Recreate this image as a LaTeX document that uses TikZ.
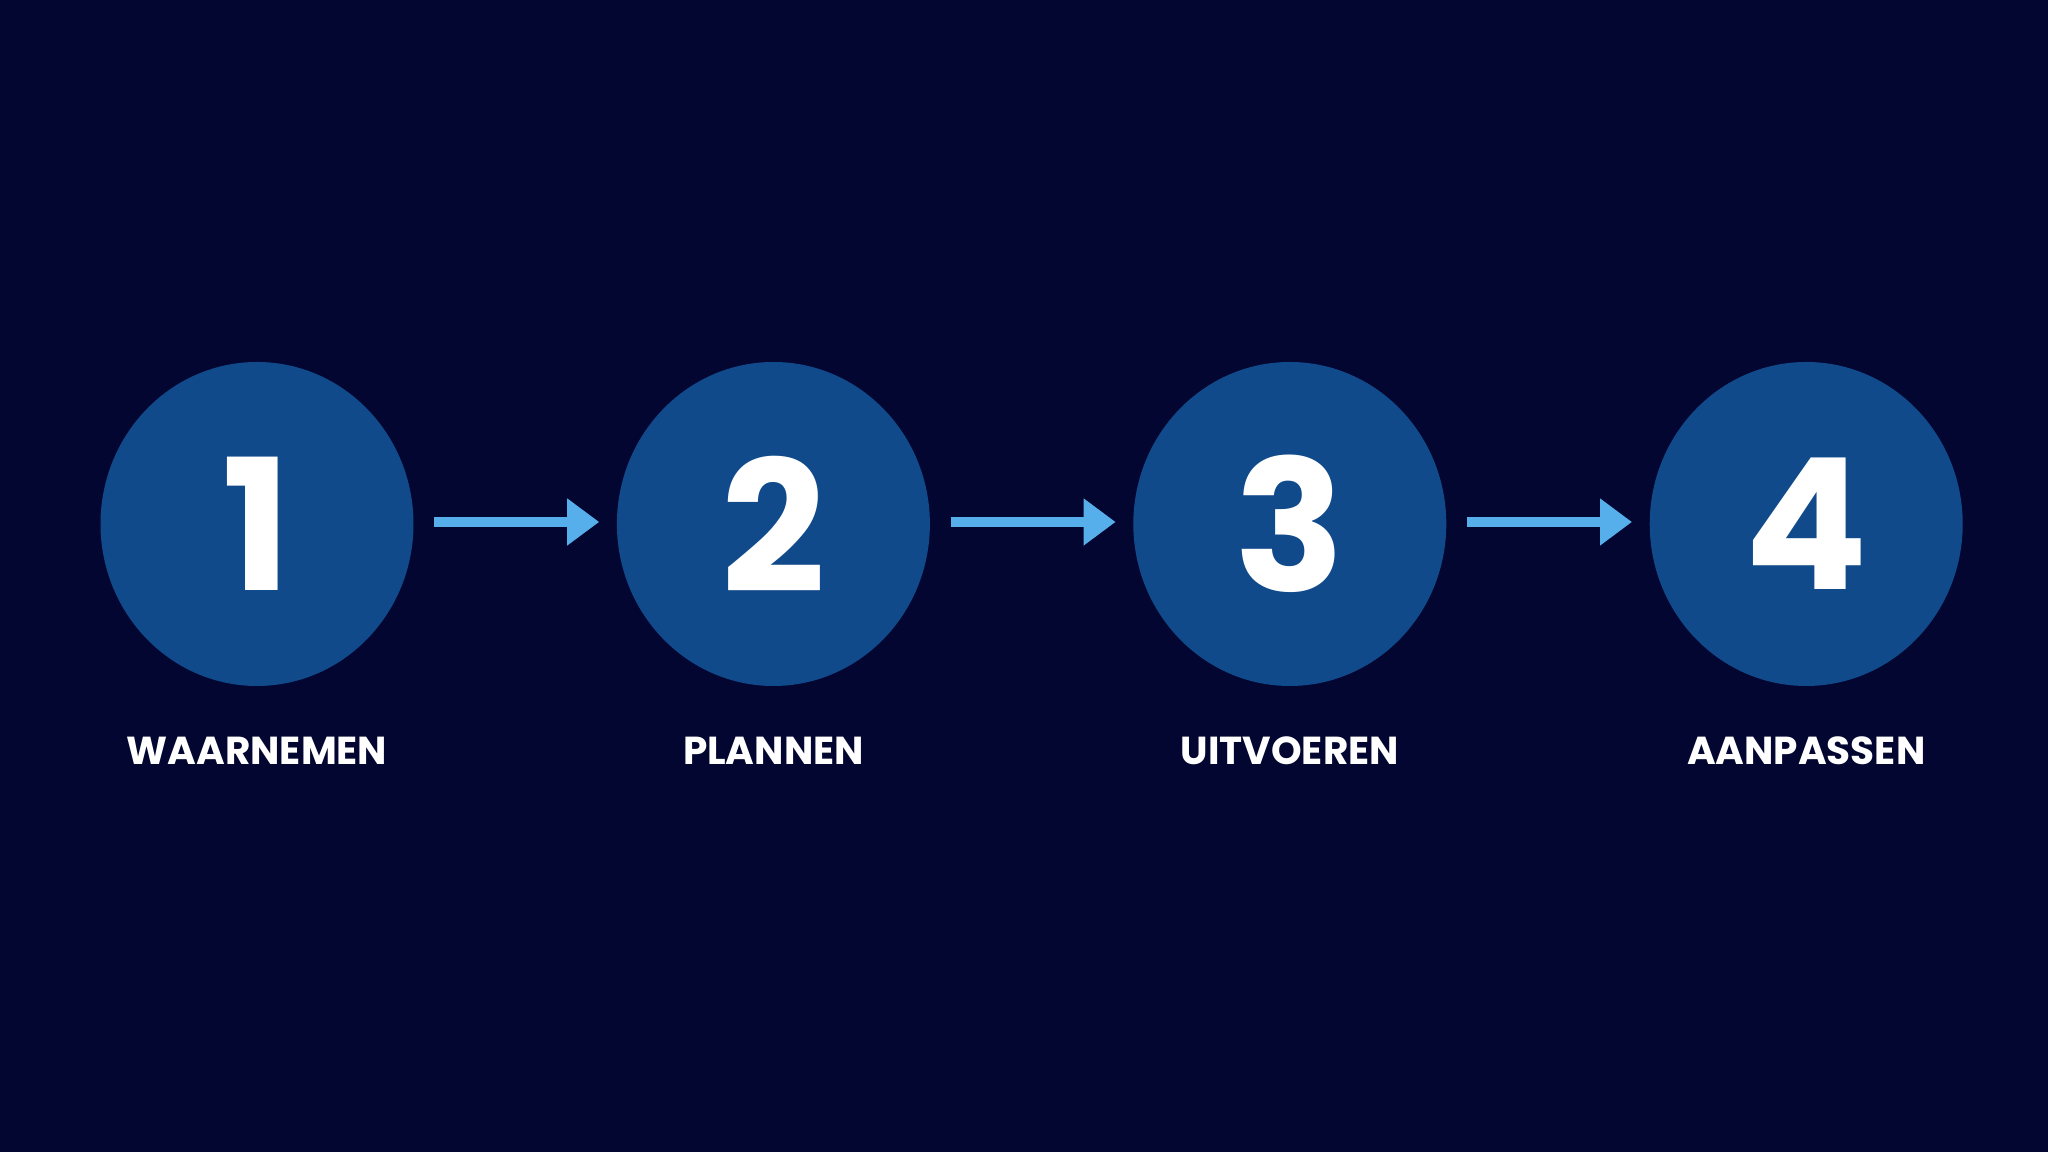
\documentclass[tikz,border=0pt]{standalone}
\usepackage{fontspec}
\setmainfont{Poppins}
\usetikzlibrary{positioning,shapes.geometric,arrows.meta}

\definecolor{nightbg}{HTML}{020630}
\definecolor{stagefill}{HTML}{104A8B}
\definecolor{flowblue}{HTML}{56AEEB}

\tikzset{
  stage/.style={ellipse, fill=stagefill, minimum width=3.13cm, minimum height=3.24cm, inner sep=0pt,
    text=white, font=\fontsize{52}{58}\selectfont\bfseries},
  stagelabel/.style={text=white, font=\fontsize{11.1}{14}\selectfont\bfseries},
  flow/.style={flowblue, line width=0.093cm, -{Triangle[length=0.32cm,width=0.45cm]},
    shorten <=0.2cm, shorten >=0.17cm}
}

\begin{document}
\begin{tikzpicture}
    \fill[nightbg] (0,0) rectangle (20.48,11.52); % background
    \useasboundingbox (0,0) rectangle (20.48,11.52);
    \node[stage] (observe) at (2.57,6.28) {1}; % first stage
    \node[stage, right=2.02cm of observe] (plan) {2};
    \node[stage, right=2.02cm of plan] (execute) {3};
    \node[stage, right=2.02cm of execute] (adapt) {4};
    \node[stagelabel] (observelabel) at ([yshift=-2.27cm]observe) {WAARNEMEN}; % labels
    \node[stagelabel] (planlabel) at ([yshift=-2.27cm]plan) {PLANNEN};
    \node[stagelabel] (executelabel) at ([yshift=-2.27cm]execute) {UITVOEREN};
    \node[stagelabel] (adaptlabel) at ([yshift=-2.27cm]adapt) {AANPASSEN};
    \draw[flow] ([yshift=0.02cm]observe.east) -- ([yshift=0.02cm]plan.west); % arrows
    \draw[flow] ([yshift=0.02cm]plan.east) -- ([yshift=0.02cm]execute.west);
    \draw[flow] ([yshift=0.02cm]execute.east) -- ([yshift=0.02cm]adapt.west);
\end{tikzpicture}
\end{document}
